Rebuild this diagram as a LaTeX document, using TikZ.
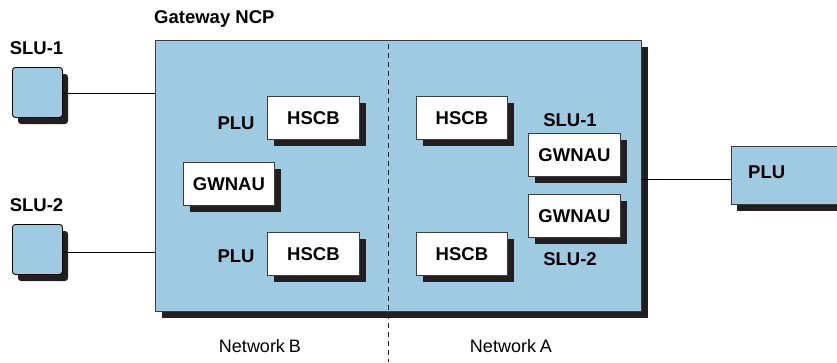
\documentclass[tikz,border=0pt]{standalone}
\usepackage{fontspec}
\setmainfont{Liberation Sans}
\definecolor{lblue}{RGB}{158,203,226}
\definecolor{shad}{RGB}{35,31,32}
\definecolor{edge}{RGB}{60,60,62}
\begin{document}
\begin{tikzpicture}[x=1pt,y=-1pt,
  lbl/.style={font=\fontsize{18.5}{18.5}\selectfont\bfseries,inner sep=0pt},
  nlbl/.style={font=\fontsize{18}{18}\selectfont,inner sep=0pt},
  wbox/.style={draw=edge,fill=white,line width=0.9pt,minimum width=92pt,minimum height=43pt,inner sep=0pt,anchor=north west,font=\fontsize{18.5}{18.5}\selectfont\bfseries},
  link/.style={line width=0.9pt,draw=black}]
\useasboundingbox (0,0) rectangle (837,362);
% main box
\fill[shad] (162,47) rectangle (648,318);
\node[draw=edge,fill=lblue,line width=0.9pt,anchor=north west,minimum width=486pt,minimum height=271pt,inner sep=0pt] (ncp) at (155,40) {};
\draw[shad,line width=1pt,dash pattern=on 5pt off 4pt] (388,44) -- (388,362);
\node[lbl,anchor=west] (gw) at (154,18.5) {Gateway NCP};
% SLU boxes
\fill[shad,rounded corners=3pt] (18,74) rectangle (68,124);
\node[draw=black,fill=lblue,line width=0.9pt,rounded corners=3pt,anchor=north west,minimum width=50pt,minimum height=50pt,inner sep=0pt] (s1) at (12,67) {};
\node[lbl] (s1l) at (36.5,48) {SLU-1};
\fill[shad,rounded corners=3pt] (18,231) rectangle (68,281);
\node[draw=black,fill=lblue,line width=0.9pt,rounded corners=3pt,anchor=north west,minimum width=50pt,minimum height=50pt,inner sep=0pt] (s2) at (12,224) {};
\node[lbl] (s2l) at (36.5,205) {SLU-2};
\coordinate (s1e) at (155,93.5);
\coordinate (s2e) at (155,252.5);
\draw[link] (s1.east |- s1e) -- (s1e);
\draw[link] (s2.east |- s2e) -- (s2e);
% white boxes with shadows
\foreach \x/\y/\w in {267/96/92, 267/232/92, 183/162/91, 416/96/91, 416/232/91, 528/133/92, 528/194/92}{
  \fill[shad] (\x+7,\y+7) rectangle (\x+\w+7,\y+43+7);
}
\node[wbox] (hb1) at (267,96) {HSCB};
\node[wbox] (hb2) at (267,232) {HSCB};
\node[wbox,minimum width=91pt] (gw1) at (183,162) {GWNAU};
\node[wbox,minimum width=91pt] (ha1) at (416,96) {HSCB};
\node[wbox,minimum width=91pt] (ha2) at (416,232) {HSCB};
\node[wbox] (ga1) at (528,133) {GWNAU};
\node[wbox] (ga2) at (528,194) {GWNAU};
\node[lbl] (p1) at (236,123) {PLU};
\node[lbl] (p2) at (236,256) {PLU};
\node[lbl] (sa1) at (570,120) {SLU-1};
\node[lbl] (sa2) at (570,259) {SLU-2};
% right PLU
\fill[shad] (737,153) rectangle (845,211);
\node[draw=edge,fill=lblue,line width=0.9pt,anchor=north west,minimum width=120pt,minimum height=58pt,inner sep=0pt] (pr) at (731,146) {};
\node[lbl,anchor=west] (prl) at (748,172) {PLU};
\coordinate (ncpr) at (641,179.5);
\draw[link] (ncpr) -- (pr.west |- ncpr);
% network labels
\node[nlbl] (nb) at (260,346) {Network\kern-1pt\ B};
\node[nlbl] (na) at (511,346) {Network\kern-1pt\ A};
\end{tikzpicture}
\end{document}
